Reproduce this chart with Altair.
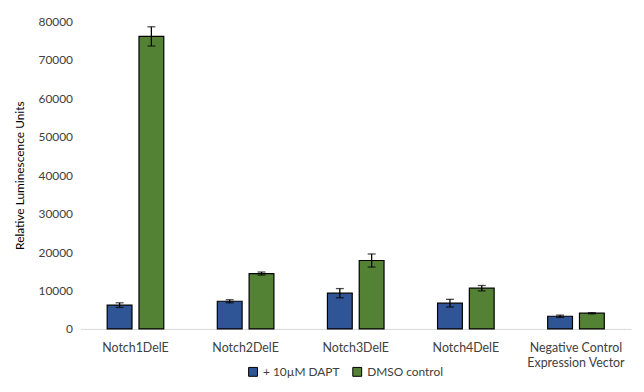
import altair as alt
import pandas as pd

categories = ["Notch1DelE", "Notch2DelE", "Notch3DelE", "Notch4DelE", "Negative Control Expression Vector"]
series = ["+ 10µM DAPT", "DMSO control"]
dapt_values = [6200, 7200, 9300, 6700, 3300]
dapt_err = [600, 400, 1200, 1000, 300]
dmso_values = [76100, 14400, 17800, 10600, 4100]
dmso_err = [2500, 400, 1700, 700, 150]

rows = []
for i, c in enumerate(categories):
    for s, v, e in ((series[0], dapt_values[i], dapt_err[i]), (series[1], dmso_values[i], dmso_err[i])):
        rows.append({"category": c, "series": s, "value": v, "lo": v - e, "hi": v + e})
df = pd.DataFrame(rows)

font = "Lato"
xenc = alt.X("category:N", sort=categories, title=None,
             scale=alt.Scale(paddingInner=0.486, paddingOuter=0.243),
             axis=alt.Axis(labelAngle=0, labelPadding=13, ticks=False, domainColor="#D9D9D9",
                           domainWidth=1, labelColor="#404040", labelFontSize=12.5, labelFont=font,
                           labelExpr="datum.value == 'Negative Control Expression Vector' ? ['Negative Control', 'Expression Vector'] : datum.label"))
xoff = alt.XOffset("series:N", sort=series, scale=alt.Scale(paddingInner=0.22, paddingOuter=0))

yaxis = alt.Axis(values=list(range(0, 80001, 10000)), format="d", grid=False, domain=False,
                 ticks=False, labelPadding=8, labelColor="#404040", labelFontSize=12,
                 labelOverlap=False, tickCount=9,
                 labelFont=font, titleFont=font, titleFontSize=12, titleFontWeight="normal",
                 titleColor="#000000", titlePadding=12)
yscale = alt.Scale(domain=[0, 80000])
ytitle = "Relative Luminescence Units"

base = alt.Chart(df)
bars = base.mark_bar(stroke="black", strokeWidth=1.2).encode(
    x=xenc, xOffset=xoff,
    y=alt.Y("value:Q", title=ytitle, scale=yscale, axis=yaxis),
    color=alt.Color("series:N", sort=series, title=None,
                    scale=alt.Scale(domain=series, range=["#2F5597", "#548235"]),
                    legend=alt.Legend(orient="none", legendX=168, legendY=347,
                                      direction="horizontal", symbolType="square",
                                      symbolStrokeColor="black", symbolStrokeWidth=1, symbolSize=80,
                                      labelFont=font, labelFontSize=12, labelColor="#404040",
                                      columnPadding=10)),
)
rules = base.mark_rule(color="black", strokeWidth=1.3).encode(
    x=xenc, xOffset=xoff, y=alt.Y("lo:Q", title=ytitle, scale=yscale, axis=yaxis), y2="hi:Q")
cap_lo = base.mark_tick(color="black", thickness=1.3, size=8, orient="horizontal").encode(
    x=xenc, xOffset=xoff, y=alt.Y("lo:Q", title=ytitle, scale=yscale, axis=yaxis))
cap_hi = base.mark_tick(color="black", thickness=1.3, size=8, orient="horizontal").encode(
    x=xenc, xOffset=xoff, y=alt.Y("hi:Q", title=ytitle, scale=yscale, axis=yaxis))

chart = alt.layer(bars, rules, cap_lo, cap_hi).properties(
    width=555, height=310, padding={"left": 5, "top": 6, "right": 5, "bottom": 5}
).configure_view(stroke=None)

chart.save("out.html", embed_options={"renderer": "svg", "actions": False})
